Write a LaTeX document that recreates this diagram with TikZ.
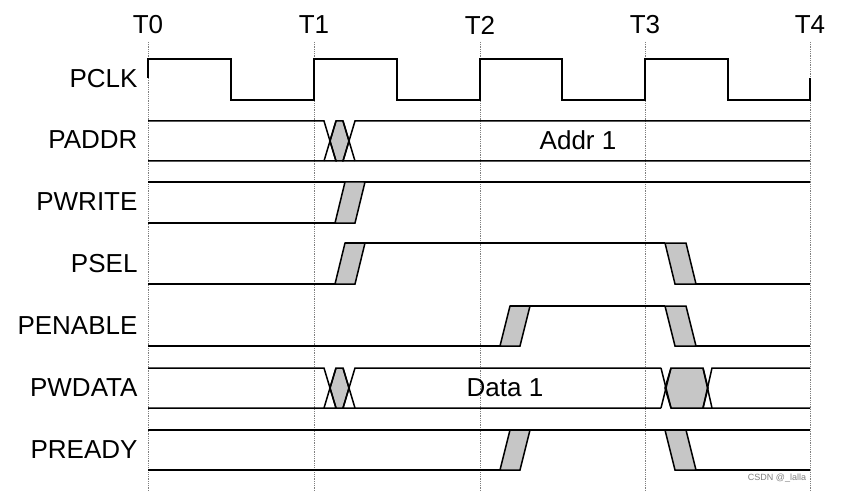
\documentclass[tikz,border=0pt]{standalone}
\usepackage{fontspec}
\setmainfont{Liberation Sans}
\tikzset{
  sig/.style={line width=1.5pt, line join=miter},
  trans/.style={sig, fill=gray!45},
  grid/.style={gray, densely dotted, line width=0.8pt},
  lbl/.style={anchor=east, font=\fontsize{26}{26}\selectfont},
  tlbl/.style={font=\fontsize{26}{26}\selectfont},
}
% rising edge: bottom-left x, row top y, row bottom y
\newcommand{\riseedge}[3]{\draw[trans] (#1,#3) -- (#1+10,#2) -- (#1+30,#2) -- (#1+20,#3) -- cycle;}
\newcommand{\falledge}[3]{\draw[trans] (#1,#2) -- (#1+21,#2) -- (#1+31,#3) -- (#1+10,#3) -- cycle;}
\begin{document}
\begin{tikzpicture}[x=1pt,y=-1pt]
  \useasboundingbox (0,0) rectangle (841,492);
  % time grid
  \foreach \i/\x in {0/148,1/314,2/480,3/645,4/810} {
    \node[tlbl] (t\i) at (\x,25) {T\i};
    \draw[grid] (\x,42) -- (\x,492);
  }
  % signal names
  \foreach \n/\y in {PCLK/79,PADDR/140,PWRITE/202,PSEL/264,PENABLE/326,PWDATA/388,PREADY/450}
    \node[lbl] (\n) at (141,\y) {\n};
  % PCLK
  \draw[sig] (148,78) -- (148,59) -- (231,59) -- (231,100) -- (314,100) -- (314,59)
    -- (397,59) -- (397,100) -- (480,100) -- (480,59) -- (562,59) -- (562,100)
    -- (645,100) -- (645,59) -- (728,59) -- (728,100) -- (810,100) -- (810,78);
  % PADDR
  \draw[trans] (330,141) -- (336,121) -- (343,121) -- (349,141) -- (343,161) -- (336,161) -- cycle;
  \draw[sig] (148,121) -- (324,121) -- (336,161) -- (148,161);
  \draw[sig] (324,161) -- (336,121);
  \draw[sig] (810,121) -- (355,121) -- (343,161) -- (810,161);
  \draw[sig] (355,161) -- (343,121);
  \node[tlbl] (addr) at (578,140) {Addr 1};
  % PWRITE
  \draw[sig] (148,182) -- (810,182);
  \draw[sig] (148,223) -- (335,223);
  \riseedge{335}{182}{223}
  % PSEL
  \draw[sig] (148,284) -- (335,284);
  \riseedge{335}{243}{284}
  \draw[sig] (345,243) -- (665,243);
  \falledge{665}{243}{284}
  \draw[sig] (696,284) -- (810,284);
  % PENABLE
  \draw[sig] (148,346) -- (500,346);
  \riseedge{500}{306}{346}
  \draw[sig] (510,306) -- (665,306);
  \falledge{665}{306}{346}
  \draw[sig] (696,346) -- (810,346);
  % PWDATA
  \draw[trans] (330,388) -- (336,368) -- (343,368) -- (349,388) -- (343,408) -- (336,408) -- cycle;
  \draw[sig] (148,368) -- (324,368) -- (336,408) -- (148,408);
  \draw[sig] (324,408) -- (336,368);
  \draw[sig] (661,368) -- (355,368) -- (343,408) -- (661,408);
  \draw[sig] (355,408) -- (343,368);
  \draw[trans] (665,388) -- (671,368) -- (703,368) -- (708,388) -- (703,408) -- (671,408) -- cycle;
  \draw[sig] (661,368) -- (671,408);
  \draw[sig] (661,408) -- (671,368);
  \draw[sig] (810,368) -- (712,368) -- (703,408) -- (810,408);
  \draw[sig] (712,408) -- (703,368);
  \node[tlbl] (data) at (505,388) {Data 1};
  % PREADY
  \draw[sig] (148,430) -- (810,430);
  \draw[sig] (148,470) -- (500,470);
  \riseedge{500}{430}{470}
  \falledge{665}{430}{470}
  \draw[sig] (696,470) -- (810,470);
  \node[gray, font=\fontsize{9}{9}\selectfont] (mark) at (777,478) {CSDN @\_lalla};
\end{tikzpicture}
\end{document}
